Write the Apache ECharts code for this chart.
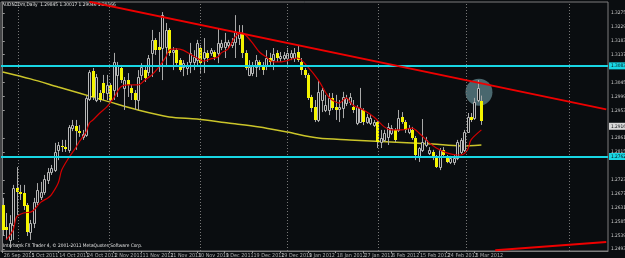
<!DOCTYPE html>
<html>
<head>
<meta charset="utf-8">
<script src="https://cdn.jsdelivr.net/npm/echarts@6/dist/echarts.min.js"></script>
<style>
  html, body { margin: 0; padding: 0; background: #0a0d10; }
  #chart { width: 625px; height: 258px; }
</style>
</head>
<body>
<div id="chart"></div>
<script>
// AUDNZDm daily bars, 26 Sep 2011 .. 7 Mar 2012 (one bar per index)
const dateLabels = ['26 Sep 2011', '5 Oct 2011', '14 Oct 2011', '24 Oct 2011', '2 Nov 2011', '11 Nov 2011',
  '21 Nov 2011', '30 Nov 2011', '9 Dec 2011', '19 Dec 2011', '29 Dec 2011', '9 Jan 2012', '18 Jan 2012',
  '27 Jan 2012', '6 Feb 2012', '15 Feb 2012', '24 Feb 2012', '5 Mar 2012']
const barsPerLabel = 8
const totalSlots = 175

const opens = [
  1.2639, 1.2567, 1.2524, 1.2573, 1.2696, 1.2682, 1.2679, 1.2639, 1.2550, 1.2580,
  1.2649, 1.2666, 1.2682, 1.2722, 1.2749, 1.2755, 1.2822, 1.2835, 1.2831, 1.2822,
  1.2894, 1.2901, 1.2884, 1.2865, 1.2871, 1.2990, 1.3083, 1.2987, 1.3010, 1.3043,
  1.3010, 1.3037, 1.3020, 1.3070, 1.3093, 1.3027, 1.3053, 1.3027, 1.3010, 1.2987,
  1.3070, 1.3086, 1.3080, 1.3143, 1.3186, 1.3162, 1.3159, 1.3162, 1.3219, 1.3146,
  1.3152, 1.3119, 1.3096, 1.3093, 1.3113, 1.3113, 1.3119, 1.3159, 1.3126, 1.3143,
  1.3143, 1.3146, 1.3143, 1.3162, 1.3162, 1.3169, 1.3169, 1.3179, 1.3192, 1.3209,
  1.3143, 1.3070, 1.3076, 1.3096, 1.3113, 1.3103, 1.3103, 1.3126, 1.3119, 1.3143,
  1.3126, 1.3126, 1.3126, 1.3129, 1.3126, 1.3146, 1.3113, 1.3086, 1.3070, 1.2997,
  1.2964, 1.2921, 1.2987, 1.2954, 1.2954, 1.2994, 1.2964, 1.2957, 1.2960, 1.2977,
  1.2980, 1.2964, 1.2911, 1.2914, 1.2954, 1.2914, 1.2911, 1.2904, 1.2914, 1.2848,
  1.2855, 1.2865, 1.2878, 1.2888, 1.2888, 1.2931, 1.2914, 1.2881, 1.2888, 1.2861,
  1.2798, 1.2822, 1.2838, 1.2812, 1.2815, 1.2798, 1.2765, 1.2822, 1.2798, 1.2782,
  1.2782, 1.2795, 1.2815, 1.2822, 1.2881, 1.2931, 1.2927, 1.2987, 1.29845
]
const closes = [
  1.2557, 1.2557, 1.2580, 1.2696, 1.2682, 1.2676, 1.2636, 1.2550, 1.2580, 1.2649,
  1.2689, 1.2682, 1.2726, 1.2749, 1.2762, 1.2815, 1.2838, 1.2831, 1.2825, 1.2898,
  1.2904, 1.2884, 1.2878, 1.2874, 1.2994, 1.3080, 1.2997, 1.3063, 1.2987, 1.3010,
  1.3037, 1.2987, 1.3113, 1.3100, 1.3053, 1.3053, 1.3037, 1.3010, 1.2987, 1.3063,
  1.3096, 1.3060, 1.3126, 1.3186, 1.3152, 1.3152, 1.3268, 1.3219, 1.3143, 1.3152,
  1.3109, 1.3086, 1.3109, 1.3103, 1.3143, 1.3129, 1.3176, 1.3109, 1.3146, 1.3126,
  1.3152, 1.3129, 1.3176, 1.3176, 1.3179, 1.3179, 1.3179, 1.3212, 1.3209, 1.3143,
  1.3093, 1.3096, 1.3103, 1.3119, 1.3096, 1.3086, 1.3126, 1.3113, 1.3139, 1.3126,
  1.3133, 1.3136, 1.3143, 1.3143, 1.3143, 1.3119, 1.3086, 1.3070, 1.2994, 1.2960,
  1.2921, 1.3014, 1.3020, 1.2970, 1.2994, 1.2960, 1.2954, 1.2964, 1.2997, 1.2994,
  1.2997, 1.2954, 1.2964, 1.2960, 1.2914, 1.2931, 1.2927, 1.2914, 1.2848, 1.2861,
  1.2878, 1.2898, 1.2894, 1.2855, 1.2927, 1.2914, 1.2888, 1.2894, 1.2861, 1.2805,
  1.2828, 1.2848, 1.2855, 1.2822, 1.2795, 1.2765, 1.2822, 1.2805, 1.2782, 1.2795,
  1.2795, 1.2848, 1.2855, 1.2881, 1.2931, 1.2921, 1.2980, 1.3027, 1.29166
]
const lows = [
  1.2537, 1.2524, 1.2497, 1.2524, 1.2606, 1.2656, 1.2623, 1.2537, 1.2524, 1.2563,
  1.2639, 1.2656, 1.2673, 1.2709, 1.2739, 1.2749, 1.2788, 1.2815, 1.2815, 1.2812,
  1.2884, 1.2822, 1.2865, 1.2855, 1.2865, 1.2984, 1.2987, 1.2980, 1.2980, 1.2987,
  1.2987, 1.2980, 1.2987, 1.2997, 1.3043, 1.2954, 1.2997, 1.2987, 1.2954, 1.2954,
  1.3053, 1.3047, 1.3066, 1.3063, 1.3136, 1.3080, 1.3053, 1.3096, 1.3133, 1.3086,
  1.3100, 1.3080, 1.3066, 1.3070, 1.3076, 1.3086, 1.3100, 1.3076, 1.3076, 1.3113,
  1.3133, 1.3119, 1.3109, 1.3152, 1.3126, 1.3159, 1.3159, 1.3126, 1.3169, 1.3126,
  1.3086, 1.3066, 1.3066, 1.3063, 1.3086, 1.3070, 1.3086, 1.3103, 1.3086, 1.3113,
  1.3113, 1.3119, 1.3093, 1.3119, 1.3113, 1.3113, 1.3070, 1.3060, 1.2987, 1.2947,
  1.2914, 1.2914, 1.2947, 1.2947, 1.2937, 1.2954, 1.2921, 1.2914, 1.2927, 1.2967,
  1.2970, 1.2944, 1.2904, 1.2911, 1.2904, 1.2908, 1.2904, 1.2898, 1.2828, 1.2828,
  1.2848, 1.2838, 1.2871, 1.2848, 1.2881, 1.2908, 1.2878, 1.2874, 1.2855, 1.2788,
  1.2782, 1.2815, 1.2831, 1.2805, 1.2788, 1.2762, 1.2755, 1.2798, 1.2778, 1.2775,
  1.2772, 1.2788, 1.2808, 1.2815, 1.2878, 1.2914, 1.2921, 1.2980, 1.29046
]
const highs = [
  1.2663, 1.2613, 1.2606, 1.2706, 1.2765, 1.2706, 1.2706, 1.2646, 1.2590, 1.2663,
  1.2712, 1.2716, 1.2739, 1.2762, 1.2772, 1.2845, 1.2848, 1.2855, 1.2855, 1.2904,
  1.2921, 1.2921, 1.2904, 1.2888, 1.3000, 1.3086, 1.3093, 1.3073, 1.3020, 1.3070,
  1.3070, 1.3043, 1.3143, 1.3113, 1.3103, 1.3063, 1.3076, 1.3037, 1.3020, 1.3086,
  1.3109, 1.3100, 1.3136, 1.3219, 1.3192, 1.3212, 1.3278, 1.3242, 1.3225, 1.3162,
  1.3159, 1.3126, 1.3119, 1.3113, 1.3176, 1.3152, 1.3186, 1.3169, 1.3192, 1.3152,
  1.3159, 1.3152, 1.3225, 1.3186, 1.3209, 1.3186, 1.3192, 1.3268, 1.3235, 1.3235,
  1.3152, 1.3119, 1.3113, 1.3136, 1.3119, 1.3113, 1.3152, 1.3143, 1.3159, 1.3152,
  1.3146, 1.3146, 1.3159, 1.3152, 1.3159, 1.3169, 1.3126, 1.3093, 1.3076, 1.3004,
  1.2987, 1.3053, 1.3027, 1.3004, 1.3010, 1.3010, 1.3004, 1.2987, 1.3014, 1.3004,
  1.3010, 1.2987, 1.2970, 1.3027, 1.2960, 1.2941, 1.2937, 1.2921, 1.2921, 1.2888,
  1.2888, 1.2911, 1.2904, 1.2894, 1.2954, 1.2947, 1.2921, 1.2904, 1.2898, 1.2868,
  1.2831, 1.2924, 1.2865, 1.2831, 1.2822, 1.2805, 1.2828, 1.2831, 1.2805, 1.2802,
  1.2805, 1.2855, 1.2861, 1.2888, 1.2944, 1.2944, 1.2994, 1.3053, 1.30017
]

// fast moving average (red), read at these bars
const fastMaBars = [1, 3, 4, 6, 8, 9, 11, 13, 14, 16, 17, 19, 21, 22, 24, 25, 26, 28, 30, 32, 34, 36, 39, 41, 43,
  45, 47, 48, 50, 52, 54, 56, 58, 60, 62, 63, 65, 67, 69, 70, 72, 74, 76, 78, 80, 85, 88, 91, 94, 97, 99, 101,
  104, 107, 110, 112, 115, 118, 120, 123, 125, 128, 131, 132, 134, 135, 138]
const fastMaVals = [1.2524, 1.2557, 1.2600, 1.2613, 1.2616, 1.2623, 1.2649, 1.2663, 1.2673, 1.2712, 1.2755, 1.2795,
  1.2828, 1.2848, 1.2881, 1.2911, 1.2921, 1.2944, 1.2964, 1.2994, 1.3030, 1.3037, 1.3037, 1.3053, 1.3070,
  1.3096, 1.3129, 1.3152, 1.3156, 1.3152, 1.3139, 1.3126, 1.3116, 1.3123, 1.3129, 1.3143, 1.3156, 1.3196,
  1.3209, 1.3202, 1.3176, 1.3146, 1.3129, 1.3113, 1.3113, 1.3126, 1.3096, 1.3053, 1.2997, 1.2977, 1.2994,
  1.2970, 1.2954, 1.2931, 1.2898, 1.2888, 1.2888, 1.2894, 1.2878, 1.2845, 1.2828, 1.2812, 1.2805, 1.2805,
  1.2822, 1.2855, 1.2888]

// slow moving average (yellow)
const slowMaBars = [0, 8, 16, 22, 31, 39, 48, 56, 65, 74, 82, 91, 100, 112, 124, 132, 138]
const slowMaVals = [1.3080, 1.3057, 1.3030, 1.3010, 1.2980, 1.2954, 1.2931, 1.2924, 1.2911, 1.2898, 1.2881,
  1.2861, 1.2855, 1.2848, 1.2841, 1.2835, 1.2838]

// drawn objects
const levels = [1.3083, 1.2762]
const upperTrend = [[25, 1.3312], [174, 1.2956]]
const lowerTrend = [[142, 1.2490], [174, 1.2517]]
const highlight = [137.3, 1.3013]
const priceTicks = [1.32750, 1.32290, 1.31830, 1.31370, 1.30450, 1.29990, 1.29530, 1.28610, 1.28150,
  1.27230, 1.26770, 1.26310, 1.25850, 1.25390, 1.24930]
const monthLines = [4.4, 30.6, 56.9, 82, 108.2, 133.6, 163.3]

const Y_MIN = 1.24872
const Y_MAX = 1.33114
const NARROW = '"Liberation Sans Narrow", "DejaVu Sans Condensed", sans-serif'
const chart = echarts.init(document.getElementById('chart'))

const bars = opens.map((o, i) => [i, o, closes[i], lows[i], highs[i]])
const lastClose = closes[closes.length - 1]
const dateTicks = dateLabels.map((d, k) => [k * barsPerLabel, Y_MIN, d])

function renderCandle (params, api) {
  const i = api.value(0)
  const o = api.coord([i, api.value(1)])
  const c = api.coord([i, api.value(2)])
  const l = api.coord([i, api.value(3)])
  const h = api.coord([i, api.value(4)])
  const cx = Math.round(o[0])
  const bull = api.value(2) >= api.value(1)
  const top = Math.round(Math.min(o[1], c[1]))
  const bot = Math.round(Math.max(o[1], c[1]))
  const wick = {
    type: 'line',
    shape: { x1: cx + 0.5, y1: h[1], x2: cx + 0.5, y2: l[1] },
    style: { stroke: '#a9a9a9', lineWidth: 1 }
  }
  const body = bull
    ? { type: 'rect', shape: { x: cx - 0.5, y: top + 0.5, width: 2, height: Math.max(bot - top, 1) },
        style: { fill: '#0a0d10', stroke: '#b8b8b8', lineWidth: 1 } }
    : { type: 'rect', shape: { x: cx - 1, y: top, width: 3, height: Math.max(bot - top, 1) },
        style: { fill: '#f4f400' } }
  return { type: 'group', children: [wick, body] }
}

const option = {
  backgroundColor: '#0a0d10',
  animation: false,
  grid: {
    left: 1, right: 17, top: 2, bottom: 7,
    outerBoundsMode: 'none',
    containLabel: false,
    show: true, borderColor: '#7c7c7c', borderWidth: 1
  },
  xAxis: {
    type: 'value',
    min: -0.5,
    max: totalSlots - 0.5,
    splitLine: { show: false },
    axisLine: { show: true, lineStyle: { color: '#7c7c7c' } },
    axisTick: { show: true, length: 2, lineStyle: { color: '#9a9a9a' },
      customValues: dateLabels.map((d, k) => k * barsPerLabel) },
    axisLabel: { show: false }
  },
  yAxis: {
    type: 'value',
    position: 'right',
    min: Y_MIN,
    max: Y_MAX,
    scale: true,
    splitLine: { show: false },
    axisLine: { show: true, lineStyle: { color: '#7c7c7c' } },
    axisTick: { show: true, length: 2, lineStyle: { color: '#9a9a9a' }, customValues: priceTicks },
    axisLabel: {
      customValues: priceTicks,
      formatter: v => v.toFixed(5),
      color: '#cfcfcf', fontSize: 4.8, fontFamily: NARROW, margin: 3
    }
  },
  graphic: [
    { type: 'text', left: 2, top: 2,
      style: { text: 'AUDNZDm,Daily  1.29845 1.30017 1.29046 1.29166', fill: '#e2e2e2', fontSize: 4.8, fontFamily: NARROW } },
    { type: 'text', left: 3, top: 243,
      style: { text: 'Interbank FX Trader 4, © 2001-2011 MetaQuotes Software Corp.', fill: '#e2e2e2', fontSize: 4.8, fontFamily: NARROW } }
  ],
  series: [
    {
      // month separators
      type: 'line', data: [], silent: true,
      markLine: {
        silent: true, symbol: ['none', 'none'], label: { show: false },
        lineStyle: { color: '#777', type: [1, 2], width: 1 },
        data: monthLines.map(v => ({ xAxis: v }))
      }
    },
    {
      // date labels under the frame
      type: 'scatter', silent: true, clip: false,
      data: dateTicks,
      symbolSize: 0,
      label: {
        show: true, position: [1, 2], formatter: p => p.data[2],
        color: '#cfcfcf', fontSize: 5.4, fontFamily: NARROW
      }
    },
    {
      type: 'scatter', z: 1,
      data: [highlight],
      symbolSize: 27,
      itemStyle: { color: 'rgba(112,158,166,0.78)' }
    },
    {
      type: 'line', z: 2,
      data: slowMaBars.map((b, k) => [b, slowMaVals[k]]),
      smooth: 0.3, showSymbol: false,
      lineStyle: { color: '#cbc52a', width: 1.5 }
    },
    {
      type: 'custom', z: 3,
      renderItem: renderCandle,
      encode: { x: 0, y: [1, 2, 3, 4] },
      data: bars
    },
    {
      type: 'line', z: 4,
      data: fastMaBars.map((b, k) => [b, fastMaVals[k]]),
      smooth: 0.3, showSymbol: false,
      lineStyle: { color: '#d40000', width: 1.2 }
    },
    {
      type: 'line', z: 5, data: upperTrend, showSymbol: false,
      lineStyle: { color: '#ee0000', width: 2 }
    },
    {
      type: 'line', z: 5, data: lowerTrend, showSymbol: false,
      lineStyle: { color: '#ee0000', width: 2 }
    },
    {
      type: 'line', z: 6, data: [],
      markLine: {
        silent: true, symbol: ['none', 'none'],
        data: [
          ...levels.map(v => ({
            yAxis: v,
            lineStyle: { color: '#18d6e4', width: 2, type: 'solid' },
            label: { show: true, position: 'end', distance: 1, formatter: v.toFixed(5),
              backgroundColor: '#18d6e4', color: '#0a0d10', fontSize: 4.8, fontFamily: NARROW, padding: [1, 2] }
          })),
          {
            yAxis: lastClose,
            lineStyle: { color: 'rgba(0,0,0,0)', width: 0 },
            label: { show: true, position: 'end', distance: 1, formatter: lastClose.toFixed(5),
              backgroundColor: '#d8d8d8', color: '#0a0d10', fontSize: 4.8, fontFamily: NARROW, padding: [1, 2] }
          }
        ]
      }
    }
  ]
}

chart.setOption(option)
</script>
</body>
</html>
